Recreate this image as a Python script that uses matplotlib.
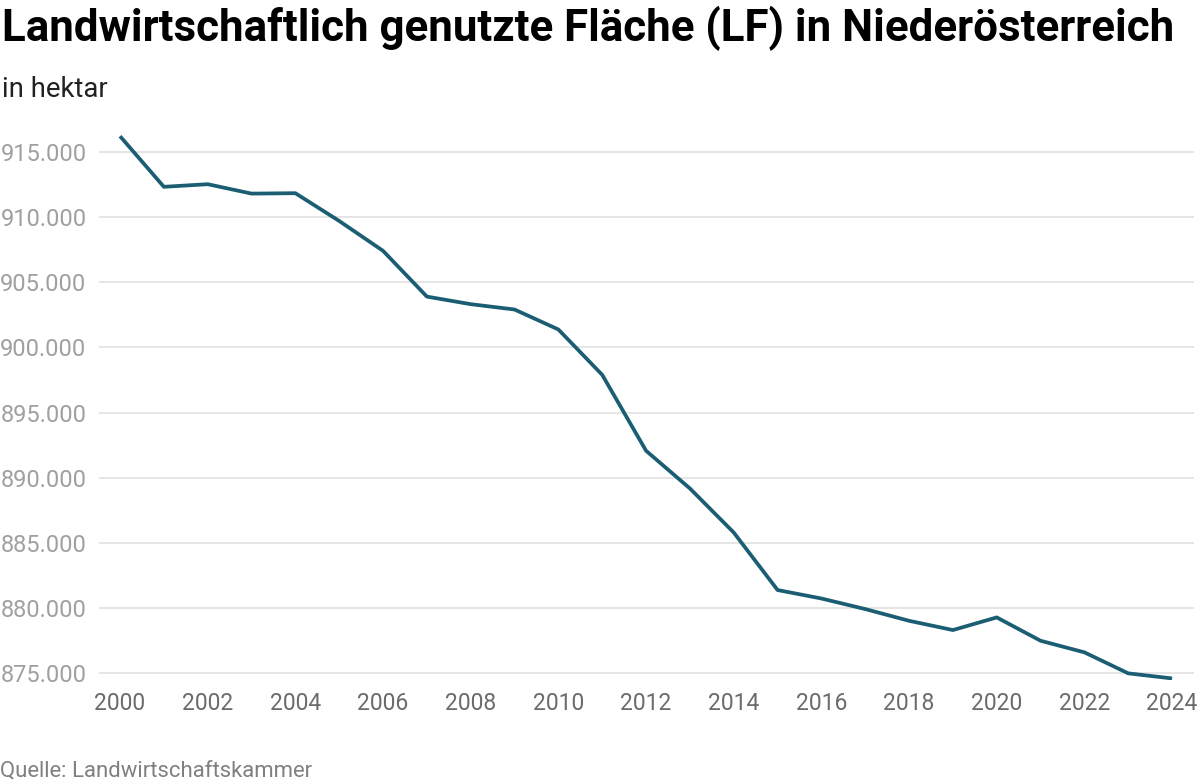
import matplotlib.pyplot as plt
from matplotlib.ticker import FuncFormatter

years = list(range(2000, 2025))
area_ha = [
    916200, 912320, 912520, 911800, 911830, 909700, 907410, 903900, 903320,
    902910, 901380, 897900, 892080, 889190, 885810, 881400, 880750, 879940,
    879040, 878330, 879300, 877510, 876620, 875010, 874620,
]
y_ticks = [875000, 880000, 885000, 890000, 895000, 900000, 905000, 910000, 915000]
x_ticks = list(range(2000, 2025, 2))

plt.rcParams["font.family"] = ["Roboto", "DejaVu Sans"]

fig = plt.figure(figsize=(12, 7.84), dpi=100)
ax = fig.add_axes([99 / 1200, 1 - 680 / 784, 1095 / 1200, 549 / 784])

ax.plot(years, area_ha, color="#1b5e74", linewidth=2.7, solid_capstyle="butt", zorder=3)

ax.set_xlim(1999.52, 2024.5)
ax.set_ylim(874500, 916600)
ax.set_yticks(y_ticks)
ax.set_xticks(x_ticks)
ax.yaxis.set_major_formatter(FuncFormatter(lambda v, p: f"{v:,.0f}".replace(",", ".")))

ax.grid(axis="y", color="#e3e3e3", linewidth=1.3)
ax.grid(axis="x", visible=False)
for s in ax.spines.values():
    s.set_visible(False)
ax.tick_params(axis="y", length=0, pad=9, labelsize=17, labelcolor="#a0a0a0")
ax.tick_params(axis="x", length=0, pad=9, labelsize=16.5, labelcolor="#6b6b6b")

fig.text(2 / 1200, 1 - 41 / 784, "Landwirtschaftlich genutzte Fläche (LF) in Niederösterreich",
         fontsize=31.6, fontweight="bold", color="#000000", va="baseline", ha="left")
fig.text(2 / 1200, 1 - 97 / 784, "in hektar", fontsize=19.8, color="#222222",
         va="baseline", ha="left")
fig.text(0 / 1200, 1 - 777 / 784, "Quelle: Landwirtschaftskammer", fontsize=15.9,
         color="#808080", va="baseline", ha="left")

fig.savefig("out.png", dpi=100)
